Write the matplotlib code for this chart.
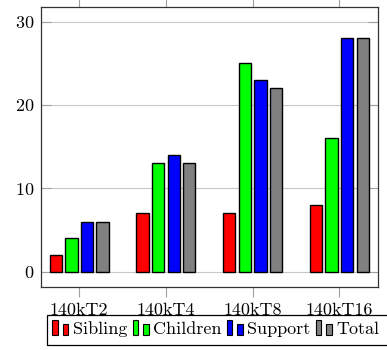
import numpy as np
import matplotlib
matplotlib.use('Agg')
import matplotlib.pyplot as plt
from matplotlib.patches import Rectangle
from matplotlib.legend_handler import HandlerBase

plt.rcParams['font.family'] = ['cmr10', 'DejaVu Serif']
plt.rcParams['axes.formatter.use_mathtext'] = True

# bar data
groups = ['140kT2', '140kT4', '140kT8', '140kT16']
sibling = [2, 7, 7, 8]
children = [4, 13, 25, 16]
support = [6, 14, 23, 28]
total = [6, 13, 22, 28]

series = [('Sibling', sibling, '#ff0000'),
          ('Children', children, '#00ff00'),
          ('Support', support, '#0000ff'),
          ('Total', total, '#808080')]


# legend icon: two small bars, the second one shorter
class TwoBars(HandlerBase):
    def create_artists(self, legend, orig_handle, xdescent, ydescent,
                       width, height, fontsize, trans):
        fc = orig_handle.get_facecolor()
        x0, y0 = -xdescent, -ydescent
        w = width * 0.34
        r1 = Rectangle((x0, y0), w, height, facecolor=fc,
                       edgecolor='black', linewidth=0.8, transform=trans)
        r2 = Rectangle((x0 + width - w, y0), w, height * 0.72, facecolor=fc,
                       edgecolor='black', linewidth=0.8, transform=trans)
        return [r1, r2]


W, H = 387, 350
fig = plt.figure(figsize=(W / 100, H / 100), dpi=100)
ax = fig.add_axes([41 / W, 1 - 287 / H, 337 / W, 280 / H])

x = np.arange(len(groups))
width = 0.142
step = 0.18
handles = []
for i, (name, vals, col) in enumerate(series):
    b = ax.bar(x + (i - 1.5) * step, vals, width, color=col,
               edgecolor='black', linewidth=1.0, label=name, zorder=3)
    handles.append(b.patches[0])

ax.set_xlim(-0.44, 3.445)
ax.set_ylim(-1.83, 31.74)
ax.set_xticks(x)
ax.set_xticklabels(groups, fontsize=13)
ax.set_yticks([0, 10, 20, 30])
ax.tick_params(axis='y', labelsize=13, direction='in', left=True, right=True,
               length=7, width=0.8, color='#a0a0a0', pad=5)
ax.tick_params(axis='x', direction='out', top=True, bottom=True,
               length=7, width=0.8, color='#a0a0a0', pad=4)
ax.grid(axis='y', color='#c8c8c8', linewidth=0.8, zorder=0)
for s in ax.spines.values():
    s.set_color('#333333')
    s.set_linewidth(0.9)

leg = fig.legend(handles, [s[0] for s in series],
                 handler_map={Rectangle: TwoBars()},
                 loc='upper left', bbox_to_anchor=(47 / W, 1 - 315 / H),
                 ncol=4, fontsize=13, handlelength=0.88, handleheight=0.85,
                 handletextpad=0.25, columnspacing=0.3, borderpad=0.3,
                 borderaxespad=0, frameon=False)

# legend frame, running past the right edge of the figure
fig.patches.append(Rectangle((47 / W, 1 - 344.5 / H), 360 / W, 29.5 / H,
                             transform=fig.transFigure, fill=False,
                             edgecolor='black', linewidth=0.9))

fig.savefig('out.png', dpi=100)
